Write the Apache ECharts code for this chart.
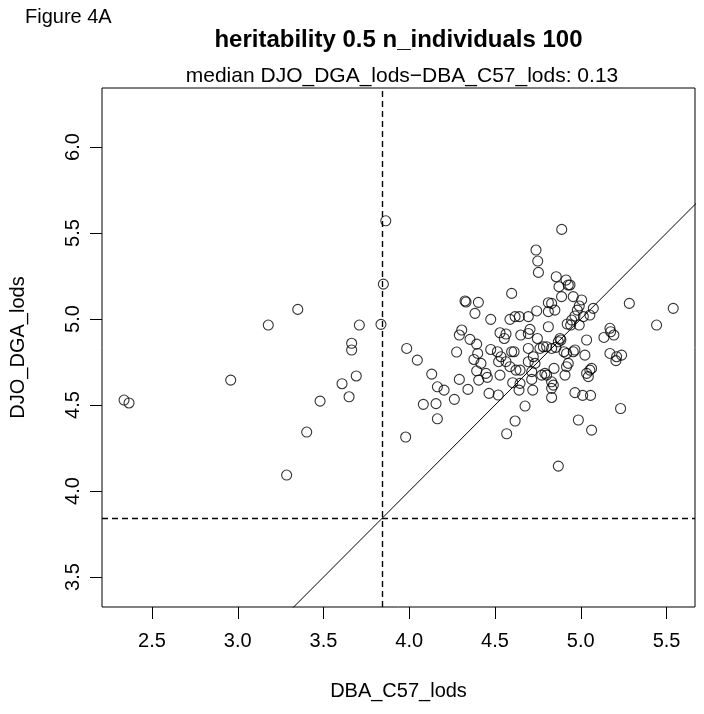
<!DOCTYPE html>
<html>
<head>
<meta charset="utf-8">
<script src="https://cdn.jsdelivr.net/npm/echarts@6/dist/echarts.min.js"></script>
<style>
html,body{margin:0;padding:0;background:#fff;}
#chart{width:704px;height:714px;}
</style>
</head>
<body>
<div id="chart"></div>
<script>
// DBA_C57_lods (x) values
const dbaC57Lods = [
  2.337, 2.366, 2.959, 3.178, 3.350, 3.709, 3.835, 3.849, 3.664, 3.664, 3.691, 3.608, 3.649, 3.480, 3.402, 3.285, 3.863,
  4.739, 4.749, 4.753, 4.597, 4.325, 4.331, 4.403, 4.383, 4.475, 4.587, 4.617, 4.642, 4.694, 4.743, 4.811, 4.811,
  3.985, 4.047, 4.131, 4.164, 4.203, 4.082, 4.156, 4.164, 3.979, 4.263, 4.292, 4.342, 4.276, 4.306, 4.292, 4.354,
  4.393, 4.399, 4.377, 4.418, 4.393, 4.405, 4.447, 4.455, 4.465, 4.519, 4.529, 4.475, 4.514, 4.521, 4.535, 4.564,
  4.529, 4.554, 4.564, 4.597, 4.611, 4.587, 4.622, 4.646, 4.603, 4.640, 4.646, 4.675, 4.617, 4.568, 4.720, 4.650,
  4.694, 4.704, 4.747, 4.694, 4.723, 4.733, 4.762, 4.782, 4.694, 4.714, 4.772, 4.791, 4.811, 4.714,
  4.889, 4.857, 4.914, 4.927, 4.937, 4.873, 4.888, 4.956, 5.005, 5.283, 5.539, 4.830, 4.849, 4.991, 4.980, 5.073,
  5.053, 4.966, 4.947, 5.015, 4.921, 4.991, 5.170, 5.442, 4.941,
  5.034, 5.135, 5.174, 5.193, 4.879, 4.884, 4.869, 4.801, 4.830, 4.855, 4.902, 4.917, 4.956, 4.966, 5.024, 5.170,
  5.209, 5.238, 5.205, 4.927, 4.917, 4.844, 4.801, 4.908, 5.034, 5.053, 5.044, 5.063, 4.830, 4.840, 4.830, 4.830,
  4.966, 5.011, 5.057, 5.232, 4.986, 5.063, 4.869
];
// DJO_DGA_lods (y) values
const djoDgaLods = [
  4.529, 4.512, 4.645, 4.965, 5.056, 4.965, 4.969, 5.203, 4.859, 4.820, 4.669, 4.624, 4.548, 4.523, 4.343, 4.093, 5.571,
  5.401, 5.337, 5.271, 5.149, 5.105, 5.099, 5.097, 5.033, 4.998, 4.998, 5.014, 5.014, 5.014, 5.047, 5.095, 5.043,
  4.829, 4.761, 4.680, 4.606, 4.587, 4.504, 4.508, 4.420, 4.314, 4.533, 4.649, 4.591, 4.808, 4.936, 4.907, 4.882,
  4.854, 4.800, 4.765, 4.742, 4.699, 4.645, 4.684, 4.661, 4.568, 4.558, 4.674, 4.823, 4.810, 4.752, 4.781, 4.752,
  4.920, 4.887, 4.913, 4.810, 4.810, 4.723, 4.703, 4.703, 4.630, 4.587, 4.626, 4.494, 4.407, 4.333, 4.587, 4.907,
  4.916, 4.940, 4.887, 4.752, 4.781, 4.742, 4.829, 4.839, 4.829, 4.694, 4.674, 4.684, 4.955, 4.649,
  5.521, 5.246, 5.227, 5.198, 5.198, 5.188, 5.130, 5.130, 5.111, 5.091, 5.062, 5.091, 5.052, 5.076, 5.052, 5.062,
  5.023, 5.018, 4.994, 5.014, 4.971, 4.965, 4.946, 4.965, 4.965,
  4.878, 4.893, 4.926, 4.907, 4.887, 4.878, 4.868, 4.839, 4.829, 4.835, 4.810, 4.800, 4.810, 4.820, 4.790, 4.800,
  4.781, 4.790, 4.758, 4.742, 4.723, 4.713, 4.674, 4.674, 4.684, 4.703, 4.665, 4.713, 4.635, 4.616, 4.597, 4.544,
  4.572, 4.556, 4.556, 4.480, 4.413, 4.354, 4.145
];
const xTicks = [2.5, 3.0, 3.5, 4.0, 4.5, 5.0, 5.5];
const yTicks = [3.5, 4.0, 4.5, 5.0, 5.5, 6.0];
const threshold = 3.84;          // dashed reference lines
const identityLine = [2, 6];     // abline(0, 1): y = x
const xRange = [2.2085, 5.666];
const yRange = [3.326, 6.343];

const FONT = '"Liberation Sans", Arial, Helvetica, sans-serif';
const points = dbaC57Lods.map((x, i) => [x, djoDgaLods[i]]);

const chart = echarts.init(document.getElementById('chart'), null, {renderer: 'canvas'});
chart.setOption({
  animation: false,
  backgroundColor: '#ffffff',
  textStyle: {fontFamily: FONT, color: '#000'},
  grid: {left: 102, top: 88, width: 593, height: 519, show: true,
         borderColor: '#000', borderWidth: 1, backgroundColor: 'transparent'},
  graphic: [
    {type: 'text', left: 25, top: 7,
     style: {text: 'Figure 4A', font: '20px ' + FONT, fill: '#000'}},
    {type: 'text', x: 398.5, y: 40,
     style: {text: 'heritability 0.5 n_individuals 100', font: 'bold 24px ' + FONT, fill: '#000',
             textAlign: 'center', textVerticalAlign: 'middle'}},
    {type: 'text', x: 402, y: 76,
     style: {text: 'median DJO_DGA_lods\u2212DBA_C57_lods: 0.13', font: '21px ' + FONT, fill: '#000',
             textAlign: 'center', textVerticalAlign: 'middle'}}
  ],
  xAxis: {
    type: 'value', min: xRange[0], max: xRange[1],
    name: 'DBA_C57_lods', nameLocation: 'middle', nameGap: 74,
    nameTextStyle: {fontSize: 20, fontFamily: FONT, color: '#000'},
    axisLine: {show: false},
    axisTick: {show: true, inside: false, length: 12, customValues: xTicks,
               lineStyle: {color: '#000', width: 1}},
    axisLabel: {customValues: xTicks, fontSize: 20, fontFamily: FONT, color: '#000', margin: 24,
                formatter: v => v.toFixed(1)},
    splitLine: {show: false}
  },
  yAxis: {
    type: 'value', min: yRange[0], max: yRange[1],
    name: 'DJO_DGA_lods', nameLocation: 'middle', nameGap: 74, nameRotate: 90,
    nameTextStyle: {fontSize: 20, fontFamily: FONT, color: '#000'},
    axisLine: {show: false},
    axisTick: {show: true, inside: false, length: 12, customValues: yTicks,
               lineStyle: {color: '#000', width: 1}},
    axisLabel: {customValues: yTicks, fontSize: 20, fontFamily: FONT, color: '#000', margin: 19,
                rotate: 90, formatter: v => v.toFixed(1)},
    splitLine: {show: false}
  },
  series: [
    {
      type: 'line',
      data: identityLine.map(v => [v, v]),
      symbol: 'none', clip: true, silent: true,
      lineStyle: {color: '#000', width: 1}
    },
    {
      type: 'scatter',
      data: points,
      symbol: 'circle', symbolSize: 10,
      itemStyle: {color: 'rgba(255,255,255,0)', borderColor: '#000', borderWidth: 1.1},
      emphasis: {disabled: true},
      silent: true,
      markLine: {
        silent: true, symbol: 'none', label: {show: false},
        lineStyle: {color: '#000', width: 1.4, type: [6, 4]},
        data: [{xAxis: threshold}, {yAxis: threshold}]
      }
    }
  ]
});
</script>
</body>
</html>
